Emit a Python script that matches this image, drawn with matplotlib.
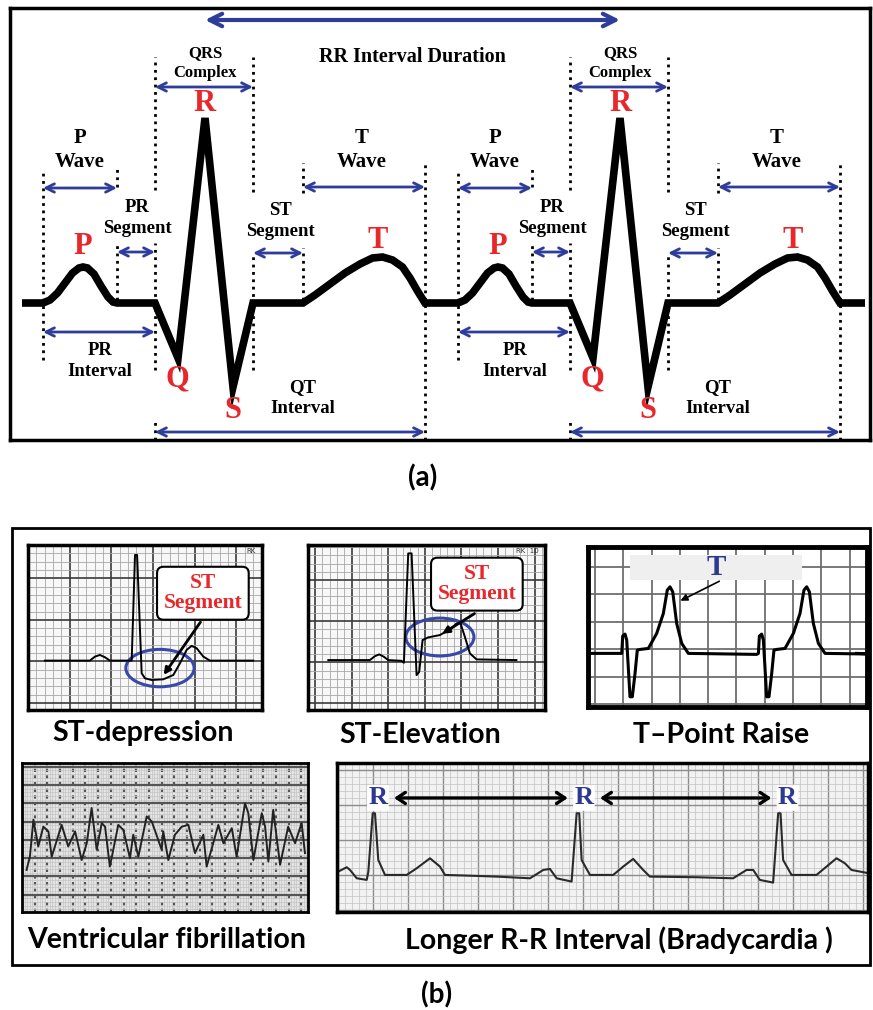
import numpy as np
import matplotlib.pyplot as plt
from matplotlib.patches import Ellipse, Rectangle
from matplotlib.ticker import MultipleLocator

W, H = 873, 1010
SERIF = ['Liberation Serif', 'DejaVu Serif']
SANS = ['Lato', 'DejaVu Sans']
BLUE = '#2E3D99'
RED = '#E8262B'

# ---------------- panel (a): idealised beat, time in ms, voltage in mV
beat_ms = [66, 80, 95, 110, 125, 138, 146, 155, 168, 182, 196, 206, 214,
           290, 336, 390, 446, 486,
           586, 610, 640, 670, 700, 725, 745, 765, 785, 800, 815, 830]
beat_mv = [0, 0.03, 0.10, 0.20, 0.30, 0.35, 0.36, 0.35, 0.29, 0.17, 0.06, 0.01, 0,
           0, -0.55, 1.85, -0.84, 0,
           0, 0.08, 0.19, 0.30, 0.39, 0.45, 0.46, 0.43, 0.36, 0.25, 0.12, 0]
rr_ms = 830
n_beats = 2
trace_start_ms, trace_end_ms = 24, 1710

# label, start ms, end ms, arrow level mV, label x ms, label y mV, font size
intervals = [
    ('P\nWave', 66, 214, 1.15, 140, 1.53, 15),
    ('PR\nSegment', 214, 290, 0.51, 254, 0.85, 13.5),
    ('QRS\nComplex', 290, 486, 2.16, 390, 2.40, 12),
    ('ST\nSegment', 486, 586, 0.50, 540, 0.82, 13.5),
    ('T\nWave', 586, 830, 1.16, 704, 1.53, 15),
    ('PR\nInterval', 66, 290, -0.29, 180, -0.58, 13.5),
    ('QT\nInterval', 290, 830, -1.29, 585, -0.95, 13.5),
]
wave_letters = ['P', 'Q', 'R', 'S', 'T']
letter_ms = [146, 334, 390, 446, 736]
letter_mv = [0.56, -0.76, 2.00, -1.08, 0.63]

# dotted boundary guides (ms, low mV, high mV)
guide_ms = [66, 214, 214, 290, 290, 290, 486, 486, 586, 586, 830]
guide_lo = [-0.57, 1.16, 0.03, 1.13, -0.67, -1.37, 1.11, -0.67, 1.10, 0.03, -1.37]
guide_hi = [1.33, 1.35, 0.60, 2.46, 0.60, -1.18, 2.46, 0.50, 1.40, 0.55, 1.40]

# ---------------- panel (b) strips, mm on ECG paper
stdep_x = [2.04, 7.44, 8.04, 8.64, 9.24, 9.84, 12.45, 12.85, 13.1, 13.65, 14.05,
           14.85, 16.25, 17.45, 18.25, 19.05, 19.65, 20.25, 21.05, 21.85, 27.05]
stdep_y = [5.1, 5.1, 5.58, 5.78, 5.5, 5.1, 5.1, 17.8, 17.8, 3.58, 2.97,
           2.77, 2.85, 3.37, 4.78, 6.39, 6.87, 6.59, 5.58, 5.1, 5.1]

stelev_x = [1.82, 7.5, 8.19, 8.77, 9.41, 10.0, 11.82, 12.14, 12.73, 13.19, 13.87,
            14.23, 14.69, 15.46, 17.05, 18.65, 19.33, 19.87, 20.46, 21.15, 22.06, 27.5]
stelev_y = [5.27, 5.27, 5.75, 5.96, 5.67, 5.27, 5.18, 4.94, 18.24, 18.24, 3.44,
            3.84, 7.7, 8.03, 8.31, 9.12, 9.73, 9.73, 8.1, 6.08, 5.35, 5.27]

tpeak_x = [-0.28, -0.11, 0.3, 0.6, 1.18, 1.59, 2.07, 2.47, 2.95, 4.42, 5.9,
           7.07, 7.77, 8.25, 8.73, 9.43, 10.32, 11.49, 23.57]
tpeak_y = [4.25, 7.4, 7.76, 6.67, -3.64, -3.64, 0.6, 4.85, 4.97, 5.15, 7.89,
           11.5, 15.76, 16.36, 15.45, 9.7, 6.07, 4.25, 4.07]
tpeak_rr = 24.15
tpeak_start, tpeak_end = -5.6, 41.24

vf_x = [1.8, 3.1, 4.5, 6.4, 8.4, 10.4, 11.7, 15.6, 18.2, 20.9, 23.5, 25.5, 27.4,
        29.4, 31.4, 32.7, 34.6, 37.9, 39.9, 42.5, 43.8, 45.8, 49.1, 51.1, 55.0,
        55.6, 57.6, 60.2, 62.9, 65.5, 68.1, 71.4, 72.7, 77.3, 79.3, 82.6, 84.5,
        87.8, 89.1, 91.1, 94.4, 95.7, 97.0, 98.9, 101.6, 104.8, 107.5, 110.1, 111.4]
vf_y = [-8.2, -4.6, 5.5, -1.8, 3.6, 2.3, -4.6, 4.1, -1.8, 2.3, -5.5, -0.9, 8.7,
        -2.7, 4.6, 3.6, -7.3, 4.1, 2.7, -5.0, 1.4, -4.6, 6.4, 5.0, -2.7,
        2.3, -5.5, 1.4, 3.6, 4.1, -3.6, 1.4, -7.3, 4.1, -0.9, 3.2, -4.6,
        10.0, 7.3, -5.5, 7.3, 3.6, -5.9, 8.2, -6.8, 3.6, -0.9, 4.6, -3.6]

brady_x = [0.0, 1.2, 1.67, 2.63, 4.06, 4.29, 4.91, 5.24, 5.71, 6.67, 9.77, 11.2,
           13.1, 14.53, 15.24, 19.77, 22.63, 27.39, 29.29, 30.24, 31.2, 33.34,
           34.06, 34.43, 34.77, 35.96, 39.29, 40.71, 42.14, 43.57, 44.53, 51.2,
           56.43, 58.34, 59.29, 60.24, 62.14, 62.86, 63.2, 63.57, 64.77, 68.34,
           69.77, 71.2, 72.39, 73.34, 75.5]
brady_y = [0.48, 1.1, 0.71, -0.48, -0.71, 0.48, 8.81, 8.81, 2.14, 0, 0, 0.95,
           2.38, 1.19, 0, -0.14, -0.24, -0.48, 0.71, 0.86, -0.48, -0.95,
           8.81, 8.81, 2.14, 0, 0, 1.19, 2.29, 0.71, -0.24, -0.33,
           -0.48, 0.71, 0.71, -0.71, -1.1, 8.81, 8.81, 2.14, 0, 0,
           1.19, 2.38, 1.67, 0.71, 0.3]
brady_r_mm = [5.66, 35.1, 64.2]

captions = ['ST-depression', 'ST-Elevation', 'T\u2013Point Raise',
            'Ventricular fibrillation', 'Longer R-R Interval (Bradycardia )']
cap_x = [143, 420, 721, 167, 619]
cap_y = [733, 735, 735, 940, 940]


def px_axes(fig, x0, y0, x1, y1):
    return fig.add_axes([x0 / W, 1 - y1 / H, (x1 - x0) / W, (y1 - y0) / H])


def strip(fig, box, xlim, ylim, bg, border=2.5):
    ax = px_axes(fig, *box)
    ax.set_xlim(xlim)
    ax.set_ylim(ylim)
    ax.set_facecolor(bg)
    ax.tick_params(which='both', length=0, labelbottom=False, labelleft=False)
    for s in ax.spines.values():
        s.set_linewidth(border)
    ax.set_axisbelow(True)
    return ax


def paper(ax, major, minor, c_major, c_minor, lw_major, lw_minor):
    ax.xaxis.set_major_locator(MultipleLocator(major))
    ax.yaxis.set_major_locator(MultipleLocator(major))
    if minor:
        ax.xaxis.set_minor_locator(MultipleLocator(minor))
        ax.yaxis.set_minor_locator(MultipleLocator(minor))
        ax.grid(which='minor', color=c_minor, lw=lw_minor)
    ax.grid(which='major', color=c_major, lw=lw_major)


fig = plt.figure(figsize=(W / 100, H / 100), dpi=100)
bg = fig.add_axes([0, 0, 1, 1])
bg.set_xlim(0, W)
bg.set_ylim(H, 0)
bg.axis('off')

# ================= panel (a)
ax = px_axes(fig, 10, 8, 870, 440)
ax.set_xlim(0, 1720)
ax.set_ylim(-1.37, 2.95)
ax.set_xticks([])
ax.set_yticks([])
for s in ax.spines.values():
    s.set_linewidth(2.5)

t = [trace_start_ms]
v = [0]
for k in range(n_beats):
    t += [x + k * rr_ms for x in beat_ms]
    v += beat_mv
t.append(trace_end_ms)
v.append(0)
ax.plot(t, v, color='black', lw=5.5, solid_joinstyle='miter', solid_capstyle='butt')

for k in range(n_beats):
    off = k * rr_ms
    ax.vlines([g + off for g in guide_ms], guide_lo, guide_hi, colors='black',
              linestyles=':', lw=2)
    for lab, a, b, lev, lx, ly, fs in intervals:
        ax.annotate('', xy=(b + off, lev), xytext=(a + off, lev),
                    arrowprops=dict(arrowstyle='<->,head_length=0.6,head_width=0.3',
                                    color=BLUE, lw=2, shrinkA=0, shrinkB=0))
        ax.text(lx + off, ly, lab, ha='center', va='center', fontsize=fs,
                fontweight='bold', family=SERIF, linespacing=1.3)
    for L, lx, ly in zip(wave_letters, letter_ms, letter_mv):
        ax.text(lx + off, ly, L, ha='center', va='center', fontsize=22,
                fontweight='bold', family=SERIF, color=RED)

r_ms = beat_ms[beat_mv.index(max(beat_mv))]
ax.annotate('', xy=(r_ms + rr_ms, 2.83), xytext=(r_ms, 2.83),
            arrowprops=dict(arrowstyle='<->,head_length=0.9,head_width=0.45',
                            color=BLUE, lw=3, shrinkA=0, shrinkB=0))
ax.text(r_ms + rr_ms / 2, 2.46, 'RR Interval Duration', ha='center', va='center',
        fontsize=14.5, fontweight='bold', family=SERIF)

bg.text(423, 478, '(a)', ha='center', va='center', fontsize=20,
        fontweight='bold', family=SANS)

# ================= panel (b)
bg.add_patch(Rectangle((12, 528), 858, 437, fill=False, ec='black', lw=2))

# ST depression
a1 = strip(fig, (28, 545, 262, 710), (0, 28.1), (-0.84, 19.0), '#F7F7F7')
paper(a1, 5, 1, '#3A3A3A', '#A8A8A8', 1.2, 0.6)
a1.plot(stdep_x, stdep_y, color='black', lw=1.4)
a1.add_patch(Ellipse((15.85, 4.2), 8.2, 4.5, fill=False, ec='#3848A8', lw=2.2))
a1.annotate('', xy=(16.1, 3.1), xytext=(20.9, 10.0),
            arrowprops=dict(arrowstyle='-|>', color='black', lw=2))
a1.text(21.0, 13.2, 'ST\nSegment', ha='center', va='center', fontsize=15.5,
        fontweight='bold', family=SERIF, color=RED, linespacing=1.0,
        bbox=dict(boxstyle='round,pad=0.3', fc='white', ec='black', lw=1.5))
a1.text(27.3, 18.3, 'RK', ha='right', va='center', fontsize=5, color='#333333')

# ST elevation
a2 = strip(fig, (308, 545, 545, 710), (-0.95, 31.4), (-0.8, 19.26), '#F7F7F7')
paper(a2, 5, 1, '#3A3A3A', '#A8A8A8', 1.2, 0.6)
a2.plot(stelev_x, stelev_y, color='black', lw=1.4)
a2.add_patch(Ellipse((17.05, 8.07), 9.3, 4.6, fill=False, ec='#3848A8', lw=2.2))
a2.annotate('', xy=(17.05, 8.3), xytext=(22.1, 11.1),
            arrowprops=dict(arrowstyle='-|>', color='black', lw=2))
a2.text(22.1, 14.5, 'ST\nSegment', ha='center', va='center', fontsize=15.5,
        fontweight='bold', family=SERIF, color=RED, linespacing=1.0,
        bbox=dict(boxstyle='round,pad=0.3', fc='white', ec='black', lw=1.5))
a2.text(30.5, 18.5, 'RK  10', ha='right', va='center', fontsize=5, color='#333333')

# T point raise
a3 = strip(fig, (588, 547, 867, 707), (-6.24, 43.06), (-5.5, 23.6), 'white', border=3.5)
paper(a3, 5, None, '#6E6E6E', None, 1.3, 0)
tx = [tpeak_start]
ty = [tpeak_y[0]]
for k in range(2):
    tx += [x + k * tpeak_rr for x in tpeak_x]
    ty += tpeak_y
tx.append(tpeak_end)
ty.append(tpeak_y[0])
a3.plot(tx, ty, color='black', lw=2.2)
a3.add_patch(Rectangle((1.18, 17.6), 30.4, 4.6, fc='#EFEFEF', ec='none', zorder=3))
a3.text(16.4, 19.9, 'T', ha='center', va='center', fontsize=21, fontweight='bold',
        family=SERIF, color='#2B3990', zorder=4)
a3.annotate('', xy=(9.65, 13.6), xytext=(17.4, 17.6),
            arrowprops=dict(arrowstyle='-|>', color='black', lw=1.2), zorder=4)

# ventricular fibrillation
a4 = strip(fig, (22, 763, 308, 912), (0, 112.6), (-19.7, 21.0), '#E4E4E4', border=2)
a4.xaxis.set_major_locator(MultipleLocator(5))
a4.yaxis.set_major_locator(MultipleLocator(5))
a4.xaxis.set_minor_locator(MultipleLocator(1))
a4.yaxis.set_minor_locator(MultipleLocator(1))
a4.grid(which='minor', color='#C4C4C4', lw=0.5)
a4.grid(which='major', axis='y', color='#555555', lw=1.6)
a4.grid(which='major', axis='x', color='#555555', lw=1.6, ls=(0, (1.5, 1.5)))
a4.plot(vf_x, vf_y, color='#222222', lw=1.4, solid_joinstyle='round')

# bradycardia
a5 = strip(fig, (337, 763, 868, 912), (-0.19, 75.7), (-5.3, 16.0), '#F2F2F2')
paper(a5, 5, 1, '#8C8C8C', '#C2C2C2', 1.0, 0.5)
a5.plot(brady_x, brady_y, color='#2A2A2A', lw=1.5)
for rx in brady_r_mm:
    a5.text(rx, 11.0, 'R', ha='center', va='center', fontsize=19, fontweight='bold',
            family=SERIF, color='#2B3990',
            bbox=dict(boxstyle='round,pad=0.05', fc='white', ec='none'))
for a, b in zip(brady_r_mm[:-1], brady_r_mm[1:]):
    a5.annotate('', xy=(b - 2.3, 11.0), xytext=(a + 2.3, 11.0),
                arrowprops=dict(arrowstyle='<->,head_length=0.6,head_width=0.4',
                                color='black', lw=2.4, shrinkA=0, shrinkB=0))

for c, x, y in zip(captions, cap_x, cap_y):
    bg.text(x, y, c, ha='center', va='center', fontsize=20.5, fontweight='bold',
            family=SANS)

bg.text(437, 995, '(b)', ha='center', va='center', fontsize=20,
        fontweight='bold', family=SANS)

fig.savefig('out.png', dpi=100)
